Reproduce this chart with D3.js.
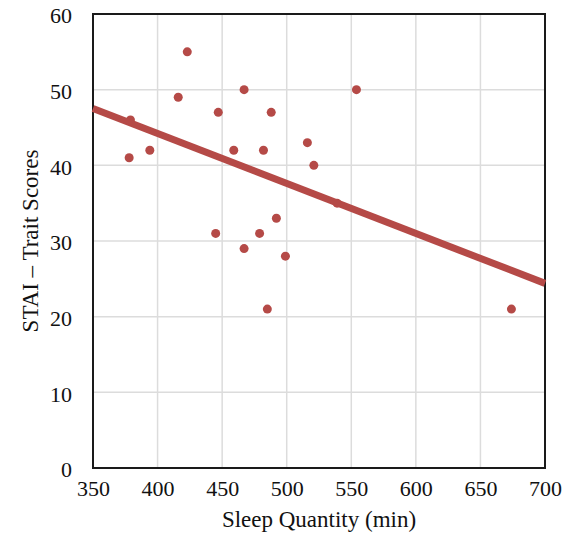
<!DOCTYPE html>
<html><head><meta charset="utf-8">
<script src="https://cdn.jsdelivr.net/npm/d3@7"></script>
<style>body{margin:0;background:#fff}</style>
</head><body>
<svg id="c" width="566" height="533"></svg>
<script>
const sleepMin = [423,416,467,447,488,379,378,394,459,482,516,521,492,445,479,467,499,485,554,674,539];
const staiScore = [55,49,50,47,47,46,41,42,42,42,43,40,33,31,31,29,28,21,50,21,35];
const trendX = [350,700];
const trendY = [47.5,24.4];
const xTicks = [350,400,450,500,550,600,650,700];
const yTicks = [0,10,20,30,40,50,60];
const xTitle = "Sleep Quantity (min)";
const yTitle = "STAI – Trait Scores";

const svg = d3.select("#c");
const L=93,R=545,T=14,B=468;
const x = d3.scaleLinear().domain([350,700]).range([L,R]);
const y = d3.scaleLinear().domain([0,60]).range([B,T]);
const red = "#b54a47";
const font = "'Liberation Serif','Times New Roman',serif";

// grid
svg.append("g").selectAll("line").data(xTicks).join("line")
  .attr("x1",d=>x(d)).attr("x2",d=>x(d)).attr("y1",T).attr("y2",B)
  .attr("stroke","#dcdcdc").attr("stroke-width",1.5);
svg.append("g").selectAll("line").data(yTicks).join("line")
  .attr("y1",d=>y(d)).attr("y2",d=>y(d)).attr("x1",L).attr("x2",R)
  .attr("stroke","#dcdcdc").attr("stroke-width",1.5);

// axes labels via d3 axes
const xa = svg.append("g").attr("transform",`translate(0,${B})`)
  .call(d3.axisBottom(x).tickValues(xTicks).tickSize(0).tickPadding(12));
xa.select(".domain").remove();
xa.selectAll("text").attr("font-family",font).attr("font-size",22).attr("fill","#111");
const ya = svg.append("g").attr("transform",`translate(${L},0)`)
  .call(d3.axisLeft(y).tickValues(yTicks).tickSize(0).tickPadding(21));
ya.select(".domain").remove();
ya.selectAll("text").attr("font-family",font).attr("font-size",22).attr("fill","#111").attr("dy","0.4em");

// frame
svg.append("rect").attr("x",L).attr("y",T).attr("width",R-L).attr("height",B-T)
  .attr("fill","none").attr("stroke","#1a1a1a").attr("stroke-width",2);

// points
svg.append("g").selectAll("circle").data(sleepMin.map((v,i)=>[v,staiScore[i]])).join("circle")
  .attr("cx",d=>x(d[0])).attr("cy",d=>y(d[1])).attr("r",4.5).attr("fill",red);

// trend line
svg.append("line").attr("x1",x(trendX[0])).attr("y1",y(trendY[0]))
  .attr("x2",x(trendX[1])).attr("y2",y(trendY[1]))
  .attr("stroke",red).attr("stroke-width",7);

// titles
svg.append("text").attr("x",(L+R)/2).attr("y",527).attr("text-anchor","middle")
  .attr("font-family",font).attr("font-size",23).attr("fill","#111").text(xTitle);
svg.append("text").attr("transform",`translate(38,${(T+B)/2}) rotate(-90)`).attr("text-anchor","middle")
  .attr("font-family",font).attr("font-size",23).attr("fill","#111").text(yTitle);
</script>
</body></html>
